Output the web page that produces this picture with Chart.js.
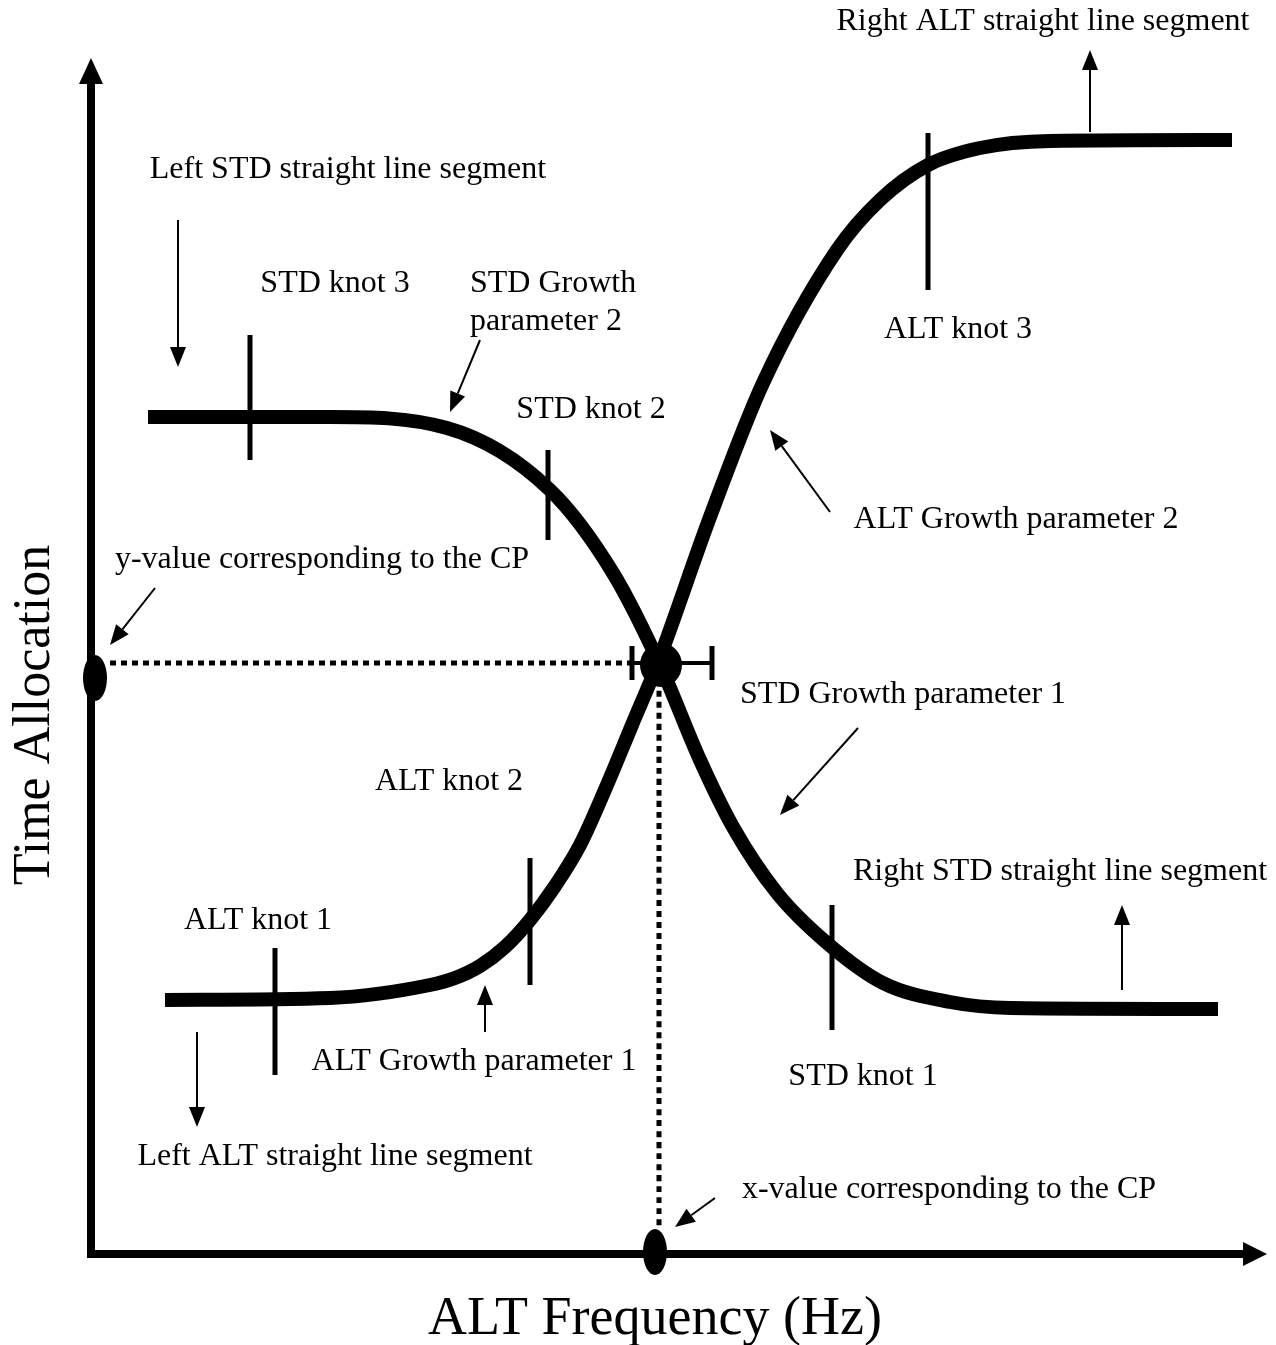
<!DOCTYPE html>
<html>
<head>
<meta charset="utf-8">
<script src="https://cdn.jsdelivr.net/npm/chart.js@4/dist/chart.umd.min.js"></script>
<style>
  body { margin: 0; background: #fff; }
  canvas { display: block; }
</style>
</head>
<body>
<canvas id="diagram" width="1276" height="1345"></canvas>
<script>
// curve points (origin = where the two axes meet)
var stdX = [57, 239, 356, 459, 522, 569, 609, 642, 686, 736, 792, 859, 919, 1127];
var stdY = [837, 837, 826, 764, 681, 589, 494, 427, 361, 311, 271, 252, 246, 245];
var altX = [74, 239, 339, 364, 389, 414, 439, 464, 489, 516, 541, 566, 619, 672, 746, 789, 837, 889, 959, 1141];
var altY = [254, 256, 269, 276, 288, 307, 334, 368, 409, 469, 529, 589, 737, 871, 1004, 1054, 1089, 1106, 1113, 1114];

// knots: x, bottom, top
var knotNames = ["STD knot 3", "STD knot 2", "STD knot 1", "ALT knot 1", "ALT knot 2", "ALT knot 3"];
var knotX = [159, 457, 741, 184, 439, 837];
var knotLo = [794, 714, 224, 179, 269, 964];
var knotHi = [919, 804, 349, 306, 396, 1121];

// crossing point and its error bar
var cpX = 568;
var cpY = 591;
var cpErrLo = 541;
var cpErrHi = 621;

function pts(xs, ys) {
    var out = [];
    for (var i = 0; i < xs.length; i++) out.push({x: xs[i], y: ys[i]});
    return out;
}

var FONT = '"Liberation Serif", "Times New Roman", serif';

// text labels and arrows (data coords)
var labels = [
    ["Right ALT straight line segment", 952, 1232, "center"],
    ["Left STD straight line segment", 257, 1084, "center"],
    ["STD knot 3", 244, 970, "center"],
    ["STD Growth", 379, 970, "left"],
    ["parameter 2", 379, 932, "left"],
    ["STD knot 2", 500, 844, "center"],
    ["ALT knot 3", 867, 924, "center"],
    ["ALT Growth parameter 2", 925, 734, "center"],
    ["y-value corresponding to the CP", 231, 694, "center"],
    ["STD Growth parameter 1", 812, 559, "center"],
    ["ALT knot 2", 358, 472, "center"],
    ["Right STD straight line segment", 969, 382, "center"],
    ["ALT knot 1", 167, 333, "center"],
    ["ALT Growth parameter 1", 383, 192, "center"],
    ["STD knot 1", 772, 177, "center"],
    ["Left ALT straight line segment", 244, 97, "center"],
    ["x-value corresponding to the CP", 858, 64, "center"]
];
var arrows = [
    [999, 1122, 999, 1204],
    [87, 1034, 87, 887],
    [389, 914, 359, 842],
    [739, 742, 679, 824],
    [64, 666, 19, 609],
    [767, 526, 689, 439],
    [1031, 264, 1031, 349],
    [394, 222, 394, 269],
    [106, 222, 106, 127],
    [624, 56, 584, 27]
];

var datasets = [];
function line(data, w, dash) {
    datasets.push({
        data: data, showLine: true, borderColor: '#000', borderWidth: w,
        borderDash: dash || [], pointRadius: 0, borderCapStyle: 'butt',
        cubicInterpolationMode: 'monotone', clip: false
    });
}

// axes
line([{x: 0, y: -4}, {x: 0, y: 1172}], 8);
line([{x: -4, y: 0}, {x: 1154, y: 0}], 8);
// dotted guides
line([{x: 19, y: cpY}, {x: 539, y: cpY}], 5, [6, 5]);
line([{x: cpX, y: 574}, {x: cpX, y: 26}], 5, [6, 5]);
// curves
line(pts(stdX, stdY), 14);
line(pts(altX, altY), 14);
// knots
for (var k = 0; k < knotX.length; k++) {
    line([{x: knotX[k], y: knotLo[k]}, {x: knotX[k], y: knotHi[k]}], 5);
}
// error bar on the CP
line([{x: cpErrLo, y: cpY}, {x: cpErrHi, y: cpY}], 4);
line([{x: cpErrLo, y: cpY - 17}, {x: cpErrLo, y: cpY + 17}], 5);
line([{x: cpErrHi, y: cpY - 17}, {x: cpErrHi, y: cpY + 17}], 5);

var extras = {
    id: 'extras',
    afterDatasetsDraw: function (chart) {
        var c = chart.ctx, xs = chart.scales.x, ys = chart.scales.y;
        function px(v) { return xs.getPixelForValue(v); }
        function py(v) { return ys.getPixelForValue(v); }
        c.save();
        c.fillStyle = '#000';
        c.strokeStyle = '#000';

        // axis arrowheads
        c.beginPath();
        c.moveTo(px(0), py(1196)); c.lineTo(px(0) - 12, py(1170)); c.lineTo(px(0) + 12, py(1170));
        c.closePath(); c.fill();
        c.beginPath();
        c.moveTo(px(1176), py(0)); c.lineTo(px(1152), py(0) - 12); c.lineTo(px(1152), py(0) + 12);
        c.closePath(); c.fill();

        // filled ellipses
        function ell(x, y, rx, ry) {
            c.beginPath(); c.ellipse(px(x), py(y), rx, ry, 0, 0, Math.PI * 2); c.fill();
        }
        ell(cpX + 2, cpY - 2, 21, 22);
        ell(4, 576, 12, 23);
        ell(564, 2, 12, 23);

        // thin arrows
        c.lineWidth = 2;
        arrows.forEach(function (a) {
            var x1 = px(a[0]), y1 = py(a[1]), x2 = px(a[2]), y2 = py(a[3]);
            var ang = Math.atan2(y2 - y1, x2 - x1), L = 20, W = 8;
            var bx = x2 - L * Math.cos(ang), by = y2 - L * Math.sin(ang);
            c.beginPath(); c.moveTo(x1, y1); c.lineTo(bx, by); c.stroke();
            c.beginPath();
            c.moveTo(x2, y2);
            c.lineTo(bx + W * Math.sin(ang), by - W * Math.cos(ang));
            c.lineTo(bx - W * Math.sin(ang), by + W * Math.cos(ang));
            c.closePath(); c.fill();
        });

        // labels
        c.font = '32px ' + FONT;
        c.textBaseline = 'middle';
        labels.forEach(function (l) {
            c.textAlign = l[3];
            c.fillText(l[0], px(l[1]), py(l[2]));
        });

        // axis titles
        c.textAlign = 'center';
        c.font = '54px ' + FONT;
        c.fillText('ALT Frequency (Hz)', px(564), py(-66));
        c.font = '52px ' + FONT;
        c.translate(px(-56), py(539));
        c.rotate(-Math.PI / 2);
        c.fillText('Time Allocation', 0, 0);
        c.restore();
    }
};

new Chart(document.getElementById('diagram'), {
    type: 'scatter',
    data: { datasets: datasets },
    options: {
        responsive: false,
        animation: false,
        layout: { padding: 0 },
        plugins: { legend: { display: false }, tooltip: { enabled: false } },
        scales: {
            x: { type: 'linear', display: false, min: -91, max: 1185 },
            y: { type: 'linear', display: false, min: -91, max: 1254 }
        }
    },
    plugins: [extras]
});
</script>
</body>
</html>
